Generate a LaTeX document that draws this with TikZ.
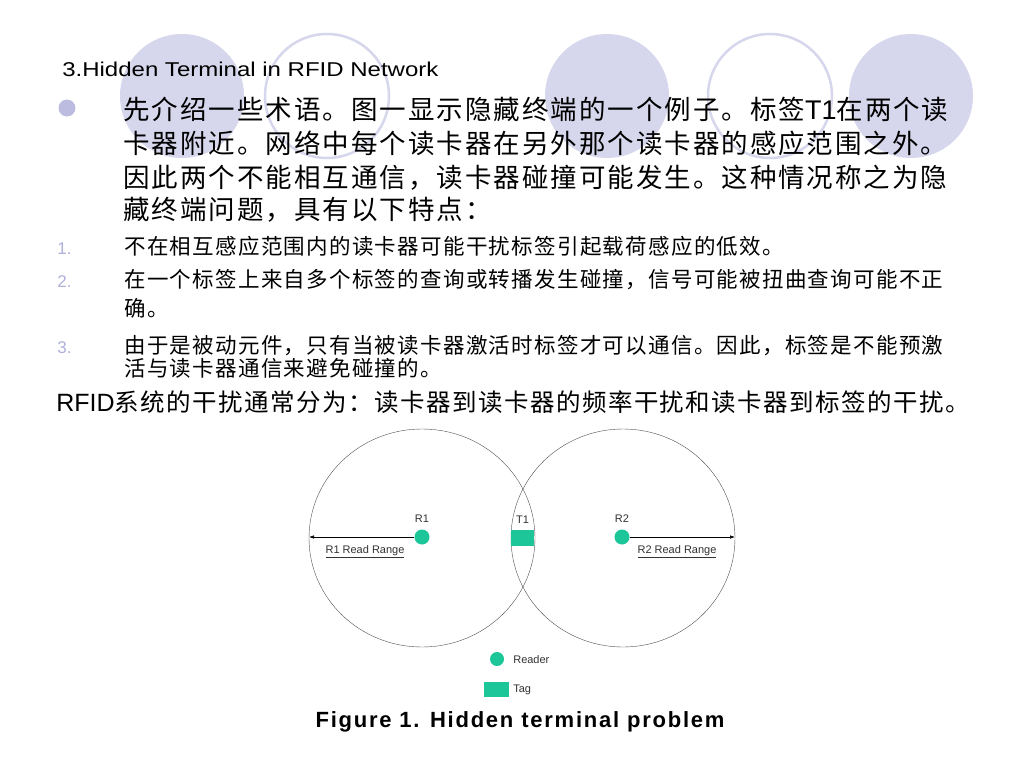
\documentclass[tikz,border=0pt]{standalone}
\usepackage{fontspec}
\setmainfont{Liberation Sans}
\newfontfamily\cjk{Noto Sans CJK SC}
\usetikzlibrary{arrows.meta,positioning}

\definecolor{lavender}{RGB}{214,214,236}
\definecolor{ringline}{RGB}{214,214,236}
\definecolor{numcol}{RGB}{176,176,220}
\definecolor{tagcol}{RGB}{28,198,152}
\definecolor{rangeline}{RGB}{80,80,80}

\begin{document}
\begin{tikzpicture}[
    x = 1pt, y = -1pt, % pixel grid, y down
    >= {Latex[length=5pt,width=3.5pt]},
    inner sep = 0pt,
    semithick
    ]

    \tikzset{
    deco/.style = {fill = lavender, draw = none},
    ring/.style = {draw = ringline, line width = 2.5pt},
    body/.style = {anchor = base west, font = \cjk\addfontfeature{LetterSpace=7.5}\fontsize{26.5}{34}\selectfont},
    item/.style = {anchor = base west, font = \cjk\addfontfeature{LetterSpace=6}\fontsize{21.5}{25}\selectfont},
    num/.style = {anchor = base west, text = numcol, font = \fontsize{17}{20}\selectfont},
    readrange/.style = {draw = rangeline, thin},
    reader/.style = {circle, fill = tagcol, minimum size = 15pt},
    tag/.style = {rectangle, fill = tagcol, minimum width = 23pt, minimum height = 16pt},
    small/.style = {font = \fontsize{11}{13}\selectfont, text = black!80}
    }

    \useasboundingbox[fill = white] (0,0) rectangle (1024,768);

    % decoration circles
    \fill[deco] (182,96) circle (62);
    \draw[ring] (327,96) circle (62);
    \fill[deco] (607,96) circle (62);
    \draw[ring] (770,96) circle (62);
    \fill[deco] (911,96) circle (62);

    % title and text
    \node[anchor = base west, font = \addfontfeature{FakeStretch=1.2}\fontsize{20}{24}\selectfont] (title) at (62,77)
        {3.Hidden Terminal in RFID Network};
    \fill[fill = numcol!85] (67,108) circle (8.5);
    \node[body] (p1) at (123,119) {先介绍一些术语。图一显示隐藏终端的一个例子。标签{\fontspec{Liberation Sans}\fontsize{27}{34}\selectfont T1}在两个读};
    \node[body] (p2) at (123,153) {卡器附近。网络中每个读卡器在另外那个读卡器的感应范围之外。};
    \node[body] (p3) at (123,187) {因此两个不能相互通信，读卡器碰撞可能发生。这种情况称之为隐};
    \node[body] (p4) at (123,219) {藏终端问题，具有以下特点：};

    \node[num] (n1) at (57,254) {1.};
    \node[item] (i1) at (124,254) {不在相互感应范围内的读卡器可能干扰标签引起载荷感应的低效。};
    \node[num] (n2) at (57,287) {2.};
    \node[item] (i2) at (124,287) {在一个标签上来自多个标签的查询或转播发生碰撞，信号可能被扭曲查询可能不正};
    \node[item] (i2b) at (124,316) {确。};
    \node[num] (n3) at (57,353) {3.};
    \node[item] (i3) at (124,353) {由于是被动元件，只有当被读卡器激活时标签才可以通信。因此，标签是不能预激};
    \node[item] (i3b) at (124,376) {活与读卡器通信来避免碰撞的。};

    \node[anchor = base west, font = \fontsize{25}{30}\selectfont] (last) at (56,411)
        {RFID{\cjk\addfontfeature{LetterSpace=6}\fontsize{24.5}{30}\selectfont 系统的干扰通常分为：读卡器到读卡器的频率干扰和读卡器到标签的干扰。}};

    % figure: read ranges
    \draw[readrange] (422,538) ellipse (113 and 109);
    \draw[readrange] (623,538) ellipse (112 and 109);

    \node[reader] (R1) at (422,537) {};
    \node[reader] (R2) at (622,537) {};
    \node[tag] (T1) at (522.5,537.5) {};
    \coordinate (e1) at (309,537);
    \coordinate (e2) at (735,537);

    \node[small, above = 6pt of R1] (lR1) {R1};
    \node[small, above = 5pt of T1] (lT1) {T1};
    \node[small, above = 6pt of R2] (lR2) {R2};

    \draw[->] (R1) -- (e1);
    \draw[->] (R2) -- (e2);
    \node[small] (rr1) at (365,552) {\underline{R1 Read Range}};
    \node[small] (rr2) at (677,552) {\underline{R2 Read Range}};

    % legend
    \node[reader, minimum size = 14pt] (key1) at (497,659) {};
    \node[small, anchor = west] (keyR) at (513,660) {Reader};
    \node[tag, minimum width = 25pt, minimum height = 15pt] (key2) at (496.5,689.5) {};
    \node[small, anchor = west] (keyT) at (513,690) {Tag};

    \node[font = \bfseries\addfontfeature{LetterSpace=8}\fontsize{22}{26}\selectfont, anchor = base] (cap) at (520,727)
        {Figure 1. Hidden terminal problem};
\end{tikzpicture}
\end{document}
